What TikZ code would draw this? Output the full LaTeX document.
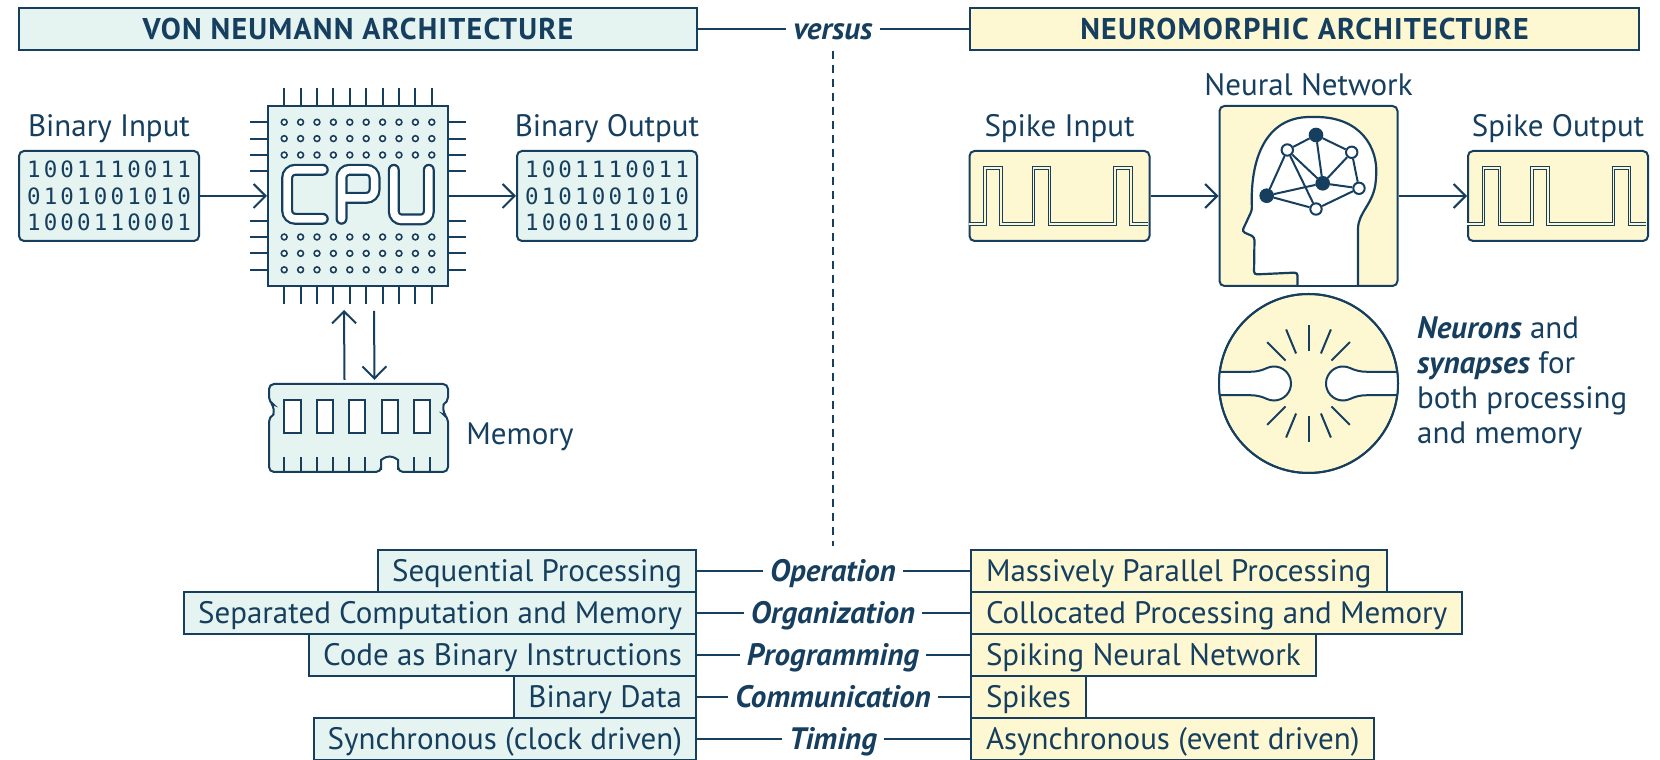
\documentclass[tikz,border=0pt]{standalone}
\usepackage{fontspec}
\setmainfont{PT Sans}
\newfontfamily\bitfont{DejaVu Sans Mono}[LetterSpace=14]
\usetikzlibrary{arrows.meta,positioning,shapes.misc}

\definecolor{ink}{HTML}{163F5F}
\definecolor{mint}{HTML}{E5F4F1}
\definecolor{cream}{HTML}{FDF8D1}

\newcommand\bodyfont{\fontsize{31}{35}\selectfont}
% centre lines of the outlined CPU lettering
\newcommand\cpuletters{(322.8,590.2) -- (287.2,590.2) -- (287.2,541.2) -- (322.8,541.2)
  (341.5,541.2) -- (341.5,590.2) -- (374.5,590.2) -- (374.5,562.2) -- (341.5,562.2)
  (393.8,590.2) -- (393.8,540.5) -- (428.8,540.5) -- (428.8,590.2)}

\tikzset{
  txt/.style={font=\bodyfont, text=ink, text height=28pt, text depth=7pt, inner sep=0pt},
  heading/.style={txt, draw=ink, line width=2pt, minimum height=42pt,
    font=\fontsize{30}{34}\selectfont\bfseries\addfontfeature{LetterSpace=4}},
  aspect/.style={txt, font=\bodyfont\bfseries\itshape, inner xsep=7pt},
  vnbox/.style={draw=ink, fill=mint, line width=2pt, rounded corners=5pt,
    minimum width=180pt, minimum height=90pt, inner sep=0pt},
  nmbox/.style={vnbox, fill=cream},
  bits/.style={text=ink, align=center, font=\bitfont\fontsize{22.5}{26.5}\selectfont},
  flow/.style={draw=ink, line width=2pt, -{Straight Barb[length=12pt,width=24pt]}},
  link/.style={draw=ink, line width=2pt},
  divider/.style={draw=ink, line width=1.6pt, dash pattern=on 8pt off 6pt},
  pin/.style={draw=ink, line width=2pt},
  via/.style={draw=ink, fill=white, line width=1.6pt},
  chip/.style={chamfered rectangle, chamfered rectangle xsep=7pt, chamfered rectangle ysep=7pt,
    draw=ink, fill=mint, line width=2pt, minimum width=180pt, minimum height=180pt, inner sep=0pt},
  wave/.style={draw=ink, line width=1.3pt, double=cream, double distance=1.1pt},
  hub/.style={circle, draw=ink, fill=ink, line width=2pt, minimum size=12.6pt, inner sep=0pt},
  cell/.style={circle, draw=ink, fill=white, line width=2pt, minimum size=11.4pt, inner sep=0pt},
  vncell/.style={txt, draw=ink, fill=mint, line width=2pt, minimum height=41.9pt,
    inner xsep=14pt, anchor=east},
  nmcell/.style={vncell, fill=cream, inner xsep=15pt, anchor=west},
  spikes/.pic={
    \draw[wave] (0,-28) -| (16.5,28) -| (32.5,-28) -| (65,28) -| (81,-28)
      -| (146.5,28) -| (162.5,-28) -- (179,-28);
  }
}

\begin{document}
\begin{tikzpicture}[x=1pt,y=1pt]
\useasboundingbox (0,0) rectangle (1660,760);
\fill[white] (0,0) rectangle (1660,760);

% headings
\node[heading, fill=mint, minimum width=678pt] (vnhead) at (358,731) {VON NEUMANN ARCHITECTURE};
\node[heading, fill=cream, minimum width=669pt] (nmhead) at (1304.5,731) {NEUROMORPHIC ARCHITECTURE};
\node[aspect] (versus) at (833,731) {versus};
\draw[link] (vnhead) -- (versus);
\draw[link] (versus) -- (nmhead);

% von Neumann: input, cpu, output
\node[vnbox, bits] (binin) at (109,564) {1001110011\\0101001010\\1000110001};
\node[vnbox, bits] (binout) at (607,564) {1001110011\\0101001010\\1000110001};
\node[txt, above=6pt of binin] (binlbl) {Binary Input};
\node[txt, above=6pt of binout] (boutlbl) {Binary Output};

\node[chip] (cpu) at (358,564) {};
\foreach \k in {0,...,9} {
  \draw[pin] ([xshift=\k*16.4pt-73.8pt]cpu.north) -- ++(0,17);
  \draw[pin] ([xshift=\k*16.4pt-73.8pt]cpu.south) -- ++(0,-17);
}
\foreach \k in {0,1,2,3,6,7,8,9} {
  \draw[pin] ([yshift=73.8pt-\k*16.4pt]cpu.west) -- ++(-17,0);
  \draw[pin] ([yshift=73.8pt-\k*16.4pt]cpu.east) -- ++(17,0);
}
\foreach \i in {0,...,9}
  \foreach \j in {0,1,2,7,8,9}
    \draw[via] ([shift={(\i*16.4-73.8,73.8-\j*16.4)}]cpu.center) circle (2.9);
\draw[ink, line width=12pt, line cap=round, rounded corners=8pt] \cpuletters;
\draw[white, line width=7.5pt, line cap=round, rounded corners=8pt] \cpuletters;

\draw[flow] (binin) -- (cpu);
\draw[flow] (cpu) -- (binout);

% memory module
\node[minimum width=179pt, minimum height=88pt, inner sep=0pt] (mem) at (358.5,332) {};
\draw[link, fill=mint, rounded corners=5pt] (269,288) -- (269,343.3)
  arc[start angle=-64, end angle=64, radius=8] -- (269,376) -- (448,376) -- (448,357.7)
  arc[start angle=116, end angle=244, radius=8] -- (448,288) -- (398.1,288) -- (398.1,295)
  arc[start angle=0, end angle=180, radius=8.5] -- (381.1,295) -- (381.1,288) -- cycle;
\foreach \k in {0,...,4}
  \draw[link, fill=white] (284.3+32.4*\k,327.3) rectangle ++(16.2,32.7);
\foreach \k in {0,...,5,8,9}
  \draw[pin] (284.3+16.2*\k,288) -- ++(0,15);
\node[txt, anchor=base west] (memlbl) at ([xshift=18pt,yshift=-17pt]mem.east) {Memory};

\draw[flow] ([xshift=-14pt,yshift=4pt]mem.north) -- ([xshift=-14pt,yshift=-23pt]cpu.south);
\draw[flow] ([xshift=16pt,yshift=-24pt]cpu.south) -- ([xshift=16pt,yshift=4pt]mem.north);

% neuromorphic: spikes in, network, spikes out
\node[nmbox] (spkin) at (1059.5,564) {};
\pic at (spkin.west) {spikes};
\node[nmbox] (spkout) at (1558,564) {};
\pic at (spkout.west) {spikes};
\node[nmbox, minimum width=178pt, minimum height=180pt] (nnet) at (1308.5,564) {};
\node[txt, above=6pt of spkin] (sinlbl) {Spike Input};
\node[txt, above=6pt of spkout] (soutlbl) {Spike Output};
\node[txt, above=2.5pt of nnet] (netlbl) {Neural Network};

\draw[ink, line width=2.2pt, fill=white, rounded corners=3pt] (1297.5,475) -- (1297.5,487.5)
  -- (1254,485.5) -- (1254.5,523) -- (1242,528.5) -- (1252,550)
  .. controls (1250,600) and (1265,643) .. (1313,643)
  .. controls (1361,643) and (1378,612) .. (1376,582)
  .. controls (1374,556) and (1358,548) .. (1358,528) -- (1358,475);

\node[hub]  (n1) at (1316,625) {};
\node[cell] (n2) at (1287.3,610) {};
\node[cell] (n3) at (1351.7,607.7) {};
\node[hub]  (n4) at (1322.7,576.7) {};
\node[cell] (n5) at (1359,571.7) {};
\node[hub]  (n6) at (1266.7,564.3) {};
\node[cell] (n7) at (1316,551) {};
\foreach \a/\b in {n1/n2,n1/n3,n1/n4,n2/n6,n2/n4,n2/n7,n3/n4,n3/n5,n4/n5,n6/n4,n6/n7,n7/n5}
  \draw[link] (\a) -- (\b);

\draw[flow] (spkin) -- (nnet);
\draw[flow] (nnet) -- (spkout);

% synapse
\node[circle, draw=ink, fill=cream, line width=2pt, minimum size=179pt, inner sep=0pt] (syn) at (1308.5,376.5) {};
\begin{scope}
  \clip (syn.center) circle (89.5);
  \draw[link, fill=white] (1215,388.2) -- (1250,388.2)
    .. controls (1257,388.2) and (1262.3,389.8) .. (1266.8,391.9)
    arc[start angle=115, end angle=-115, radius=17]
    .. controls (1262.3,363.2) and (1257,364.8) .. (1250,364.8) -- (1215,364.8);
  \draw[link, fill=white] (1402,388.2) -- (1367,388.2)
    .. controls (1360,388.2) and (1354.7,389.8) .. (1350.2,391.9)
    arc[start angle=65, end angle=295, radius=17]
    .. controls (1354.7,363.2) and (1360,364.8) .. (1367,364.8) -- (1402,364.8);
\end{scope}
\draw[link] (syn.center) circle (89.5);
\foreach \a in {45,67.5,90,112.5,135,225,247.5,270,292.5,315}
  \draw[link] ([shift={(\a:32.5)}]syn.center) -- ([shift={(\a:58.5)}]syn.center);
\node[font=\bodyfont, text=ink, align=left, inner sep=0pt, right=18pt of syn] (syntext)
  {\textbf{\textit{Neurons}} and\\\textbf{\textit{synapses}} for\\both processing\\and memory};

% comparison table
\foreach \vn/\asp/\nm [count=\r] in {
  Sequential Processing/Operation/Massively Parallel Processing,
  Separated Computation and Memory/Organization/Collocated Processing and Memory,
  Code as Binary Instructions/Programming/Spiking Neural Network,
  Binary Data/Communication/Spikes,
  Synchronous (clock driven)/Timing/Asynchronous (event driven)}
{
  \node[vncell] (vn\r) at (697,230.7-41.9*\r) {\vn};
  \node[aspect] (asp\r) at (833,230.7-41.9*\r) {\asp};
  \node[nmcell] (nm\r) at (970,230.7-41.9*\r) {\nm};
  \draw[link] (vn\r) -- (asp\r);
  \draw[link] (asp\r) -- (nm\r);
}
\draw[divider, shorten <=4pt, shorten >=7pt] (versus) -- (asp1);
\end{tikzpicture}
\end{document}
